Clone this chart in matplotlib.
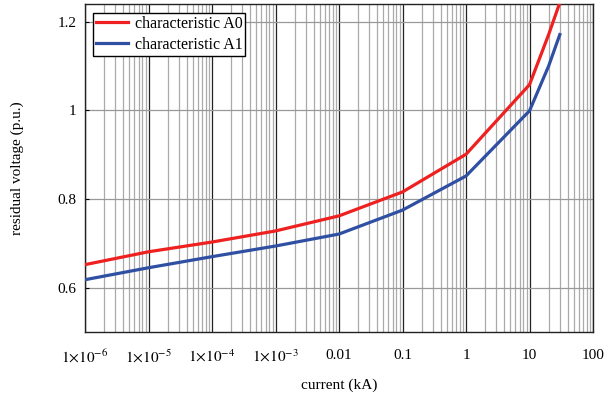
import matplotlib.pyplot as plt
from matplotlib.ticker import FixedLocator, LogLocator, NullFormatter
import numpy as np

plt.rcParams['font.family'] = 'Liberation Serif'
plt.rcParams['mathtext.fontset'] = 'stix'

# current in kA
current = [1e-6, 1e-5, 1e-4, 1e-3, 0.01, 0.1, 1, 10, 20, 30]
char_a0 = [0.652, 0.681, 0.703, 0.728, 0.762, 0.816, 0.901, 1.058, 1.171, 1.243]
char_a1 = [0.618, 0.645, 0.670, 0.694, 0.721, 0.775, 0.852, 0.999, 1.10, 1.171]

xticks = [1e-6, 1e-5, 1e-4, 1e-3, 0.01, 0.1, 1, 10, 100]
xticklabels = [r'$1{\times}10^{-6}$', r'$1{\times}10^{-5}$', r'$1{\times}10^{-4}$',
               r'$1{\times}10^{-3}$', '0.01', '0.1', '1', '10', '100']
yticks = [0.6, 0.8, 1.0, 1.2]
yticklabels = ['0.6', '0.8', '1', '1.2']

fig = plt.figure(figsize=(6.13, 3.98), dpi=100)
ax = fig.add_axes([0.1387, 0.1658, 0.8287, 0.8242])

ax.plot(current, char_a0, color='#ee2020', lw=2.3, label='characteristic A0', zorder=3)
ax.plot(current, char_a1, color='#2f4fa3', lw=2.3, label='characteristic A1', zorder=3)

ax.set_xscale('log')
ax.set_xlim(1e-6, 100)
ax.set_ylim(0.5, 1.24)

ax.xaxis.set_major_locator(FixedLocator(xticks))
ax.set_xticklabels(xticklabels, fontsize=11)
ax.xaxis.set_minor_locator(LogLocator(base=10, subs=np.arange(2, 10), numticks=100))
ax.xaxis.set_minor_formatter(NullFormatter())
ax.set_yticks(yticks)
ax.set_yticklabels(yticklabels, fontsize=11)

ax.grid(which='major', axis='x', color='#222222', lw=0.9)
ax.grid(which='minor', axis='x', color='#aaaaaa', lw=0.9)
ax.grid(which='major', axis='y', color='#999999', lw=0.9)
ax.tick_params(axis='x', which='both', length=0, pad=12)
ax.tick_params(axis='y', length=3, direction='in', pad=6)

for s in ax.spines.values():
    s.set_color('#222222')
    s.set_linewidth(1.0)

ax.set_xlabel('current (kA)', fontsize=11, labelpad=9)
ax.set_ylabel('residual voltage (p.u.)', fontsize=11, labelpad=24)

leg = ax.legend(loc='upper left', bbox_to_anchor=(0.0157, 0.973), fontsize=11.5,
                fancybox=False, framealpha=1, edgecolor='black',
                handlelength=2.0, handletextpad=0.4, borderpad=0.2,
                labelspacing=0.28, borderaxespad=0)
leg.get_frame().set_linewidth(1.0)

fig.savefig('out.png', dpi=100)
